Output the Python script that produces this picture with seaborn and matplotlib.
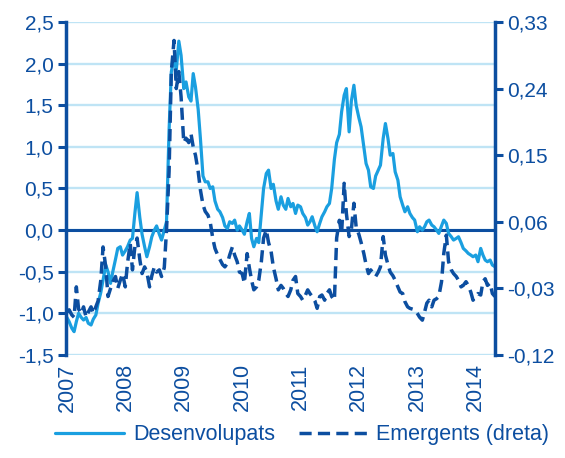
import matplotlib
matplotlib.use("Agg")
import matplotlib.pyplot as plt
import matplotlib.ticker as mticker
import pandas as pd
import seaborn as sns

# semi-monthly readings, Jan 2007 - Apr 2014
desenvolupats = (
    # 2007
    [-1.05, -1.1, -1.18, -1.22, -1.1, -1.0, -1.05, -1.08, -1.05, -1.12, -1.14, -1.07,
     -1.02, -0.88, -0.75, -0.6, -0.42, -0.5, -0.64, -0.5, -0.35, -0.22, -0.2, -0.3]
    # 2008
    + [-0.25, -0.2, -0.12, -0.1, 0.2, 0.45, 0.15, -0.05, -0.2, -0.32, -0.2, -0.08,
       0.0, 0.05, -0.05, -0.12, 0.0, 0.1, 1.2, 1.9, 2.08, 1.92, 2.27, 2.1]
    # 2009
    + [1.7, 1.78, 1.6, 1.55, 1.88, 1.72, 1.45, 1.1, 0.65, 0.58, 0.58, 0.5,
       0.52, 0.35, 0.25, 0.22, 0.15, 0.05, 0.02, 0.1, 0.08, 0.12, 0.0, 0.05]
    # 2010
    + [0.0, -0.05, 0.1, 0.2, -0.1, -0.2, -0.1, -0.15, 0.2, 0.5, 0.68, 0.72,
       0.5, 0.55, 0.35, 0.25, 0.4, 0.3, 0.25, 0.38, 0.28, 0.32, 0.2, 0.3]
    # 2011
    + [0.28, 0.2, 0.15, 0.06, 0.1, 0.16, 0.05, -0.02, 0.08, 0.16, 0.22, 0.28,
       0.32, 0.5, 0.85, 1.05, 1.15, 1.42, 1.62, 1.7, 1.18, 1.55, 1.74, 1.5]
    # 2012
    + [1.35, 1.24, 1.0, 0.8, 0.72, 0.52, 0.5, 0.65, 0.72, 0.78, 1.1, 1.28,
       1.1, 0.9, 0.92, 0.7, 0.6, 0.4, 0.3, 0.22, 0.28, 0.2, 0.15, 0.12]
    # 2013
    + [-0.02, 0.04, 0.0, 0.04, 0.1, 0.12, 0.06, 0.04, 0.0, -0.04, 0.05, 0.12,
       0.08, -0.04, -0.08, -0.12, -0.1, -0.08, -0.15, -0.22, -0.25, -0.28, -0.3, -0.32]
    # 2014
    + [-0.3, -0.38, -0.22, -0.3, -0.36, -0.38, -0.36, -0.42, -0.44]
)

emergents = (
    # 2007
    [-0.062, -0.059, -0.066, -0.069, -0.028, -0.058, -0.064, -0.055, -0.069, -0.062, -0.055, -0.064,
     -0.055, -0.047, -0.019, 0.026, -0.001, -0.041, -0.030, -0.021, -0.014, -0.030, -0.019, -0.010]
    # 2008
    + [-0.028, 0.004, 0.031, -0.005, 0.026, 0.038, 0.009, -0.010, -0.001, -0.008, -0.028, -0.013,
       -0.001, -0.008, -0.005, -0.014, -0.002, 0.049, 0.128, 0.263, 0.305, 0.240, 0.263, 0.229]
    # 2009
    + [0.167, 0.173, 0.167, 0.179, 0.161, 0.150, 0.128, 0.103, 0.083, 0.074, 0.069, 0.060,
       0.038, 0.024, 0.015, 0.009, 0.002, -0.001, 0.004, 0.015, 0.026, 0.015, 0.006, -0.008]
    # 2010
    + [-0.010, -0.023, 0.017, -0.002, -0.019, -0.032, -0.028, -0.019, 0.006, 0.038, 0.049, 0.032,
       0.020, -0.001, -0.017, -0.032, -0.026, -0.030, -0.037, -0.041, -0.032, -0.019, -0.014, -0.037]
    # 2011
    + [-0.041, -0.046, -0.039, -0.032, -0.037, -0.041, -0.047, -0.057, -0.041, -0.039, -0.046, -0.037,
       -0.032, -0.041, -0.046, 0.038, 0.062, 0.044, 0.112, 0.071, 0.040, 0.049, 0.085, 0.053]
    # 2012
    + [0.043, 0.032, 0.017, 0.002, -0.010, -0.005, -0.010, -0.014, -0.008, -0.001, 0.040, 0.015,
       0.002, -0.008, -0.013, -0.019, -0.028, -0.035, -0.037, -0.048, -0.055, -0.057, -0.058, -0.059]
    # 2013
    + [-0.064, -0.069, -0.073, -0.062, -0.050, -0.046, -0.055, -0.046, -0.044, -0.041, -0.021, 0.017,
       0.042, 0.006, -0.005, -0.010, -0.014, -0.019, -0.028, -0.026, -0.021, -0.026, -0.035, -0.046]
    # 2014
    + [-0.041, -0.037, -0.039, -0.021, -0.017, -0.026, -0.023, -0.037, -0.041]
)

years = [2007, 2008, 2009, 2010, 2011, 2012, 2013, 2014]
left_ticks = [-1.5, -1.0, -0.5, 0.0, 0.5, 1.0, 1.5, 2.0, 2.5]
right_ticks = [-0.12, -0.03, 0.06, 0.15, 0.24, 0.33]

dates = pd.date_range("2007-01-01", periods=len(desenvolupats), freq="SMS")
df = pd.DataFrame({"date": dates, "des": desenvolupats, "emg": emergents})

LIGHT = "#1a9fe0"
DARK = "#0c4ea0"
GRID = "#bfe4f5"

sns.set_style("white")
plt.rcParams["font.family"] = ["Liberation Sans", "DejaVu Sans"]

fig = plt.figure(figsize=(5.65, 4.58), dpi=100)
ax = fig.add_axes([0.117, 0.225, 0.759, 0.727])
ax2 = ax.twinx()

sns.lineplot(data=df, x="date", y="des", ax=ax, color=LIGHT, lw=2.3,
             label="Desenvolupats", legend=False)
sns.lineplot(data=df, x="date", y="emg", ax=ax2, color=DARK, lw=2.5,
             label="Emergents (dreta)", legend=False)
ax2.lines[0].set_dashes([3.5, 1.8])

ax.set_ylim(-1.5, 2.5)
ax2.set_ylim(-0.12, 0.33)
ax.set_xlim(pd.Timestamp("2006-12-27"), dates[-1])

ax.set_yticks(left_ticks)
ax2.set_yticks(right_ticks)
comma = lambda fmt: mticker.FuncFormatter(lambda v, p: format(v, fmt).replace(".", ","))
ax.yaxis.set_major_formatter(comma(".1f"))
ax2.yaxis.set_major_formatter(comma(".2f"))

ax.set_xticks([pd.Timestamp(f"{y}-01-01") for y in years])
ax.set_xticklabels([str(y) for y in years], rotation=90)

for a in (ax, ax2):
    for s in a.spines.values():
        s.set_visible(False)
    a.set_xlabel("")
    a.set_ylabel("")
    a.tick_params(axis="y", colors=DARK, labelsize=15, length=6, width=2.2, pad=3)
ax.tick_params(axis="x", colors=DARK, labelsize=15.5, length=0, pad=6)
ax.spines["left"].set_visible(True)
ax.spines["left"].set_color(DARK)
ax.spines["left"].set_linewidth(2.5)
ax2.spines["right"].set_visible(True)
ax2.spines["right"].set_color(DARK)
ax2.spines["right"].set_linewidth(2.5)

ax.yaxis.grid(True, color=GRID, lw=1.7)
ax.xaxis.grid(False)
ax2.grid(False)
ax.axhline(0, color=DARK, lw=2.2, zorder=1)

handles = ax.get_lines()[:1] + ax2.get_lines()[:1]
leg = fig.legend(handles, ["Desenvolupats", "Emergents (dreta)"], loc="lower center",
                 bbox_to_anchor=(0.535, -0.014), ncol=2, frameon=False, fontsize=15.5,
                 handlelength=3.2, columnspacing=1.1, handletextpad=0.4)
for t in leg.get_texts():
    t.set_color(DARK)

fig.savefig("out.png", dpi=100)
